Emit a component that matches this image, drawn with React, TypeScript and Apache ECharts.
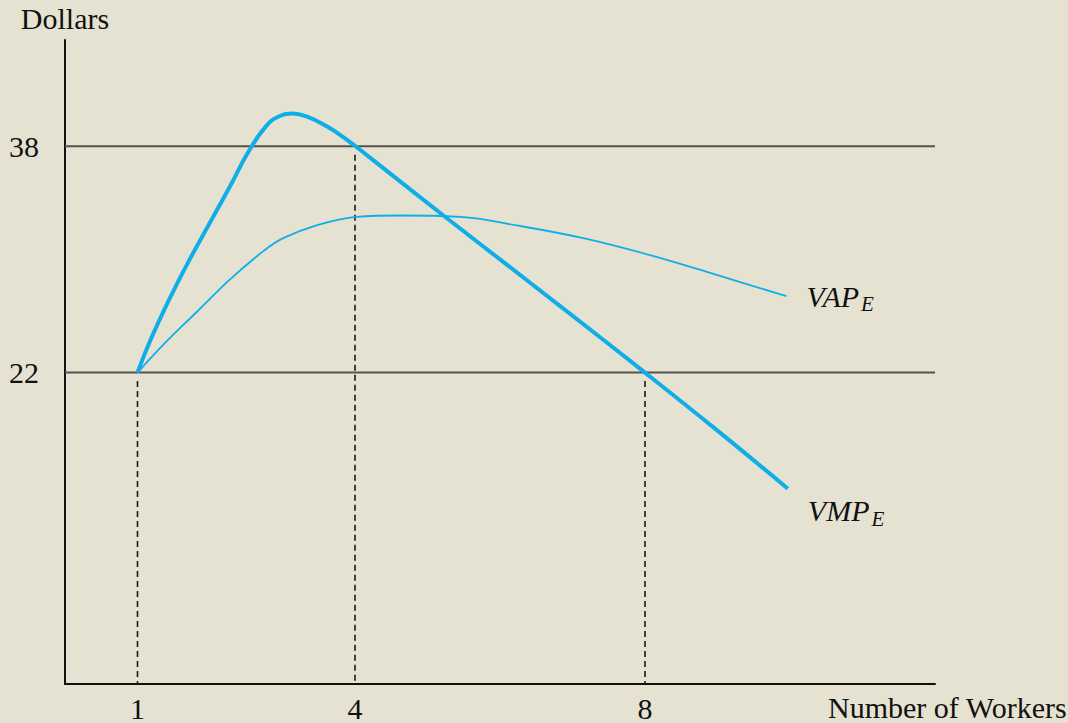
import React, { useEffect, useRef } from "react";
import * as echarts from "echarts";

const xTickValues = [1, 4, 8];
const yTickValues = [22, 38];
const xMax = 12;
const yMax = 45.5;

const vmpData: [number, number][] = [
  [1, 22], [1.17, 24.2], [1.45, 27.3], [1.72, 30.0], [2.0, 32.6], [2.28, 35.2],
  [2.53, 37.6], [2.78, 39.45], [2.97, 40.15], [3.13, 40.3], [3.33, 40.1],
  [3.61, 39.4], [3.89, 38.45], [4.18, 37.3], [4.6, 35.6], [5.22, 33.1],
  [6, 30], [6.83, 26.7], [8, 22], [9, 17.9], [9.97, 13.8],
];

const vapData: [number, number][] = [
  [1, 22], [1.36, 24.0], [1.82, 26.3], [2.28, 28.6], [2.74, 30.6], [3.01, 31.5],
  [3.47, 32.4], [4.02, 33.0], [4.62, 33.1], [5.45, 33.0], [6.23, 32.4],
  [7.15, 31.5], [8.07, 30.3], [8.99, 28.9], [9.95, 27.4],
];

const hLevels = [38, 22];
const dropLines: [number, number][] = [[1, 22], [4, 38], [8, 22]];

const FONT = "'Liberation Serif', 'Times New Roman', serif";
const BLUE = "#10aee8";

export default function App() {
  const ref = useRef<HTMLDivElement>(null);
  useEffect(() => {
    if (!ref.current) return;
    const chart = echarts.init(ref.current, null, { renderer: "svg" });
    const series: any[] = [];
    hLevels.forEach((v) => {
      series.push({
        type: "line",
        data: [[0, v], [xMax, v]],
        symbol: "none",
        silent: true,
        lineStyle: { color: "#55534d", width: 2 },
        z: 1,
      });
    });
    dropLines.forEach(([x, y]) => {
      series.push({
        type: "line",
        data: [[x, y - 0.6], [x, 0]],
        symbol: "none",
        silent: true,
        lineStyle: { color: "#1a1a1a", width: 1.6, type: [6, 4] },
        z: 1,
      });
    });
    const rich = {
      a: { fontFamily: FONT, fontStyle: "italic", fontSize: 30, color: "#111" },
      b: { fontFamily: FONT, fontStyle: "italic", fontSize: 21, color: "#111", padding: [16, 0, 0, 2] },
    };
    series.push({
      type: "line",
      name: "VAP",
      data: vapData,
      smooth: 0.4,
      symbol: "none",
      lineStyle: { color: BLUE, width: 1.8 },
      z: 3,
      endLabel: { show: true, formatter: "{a|VAP}{b|E}", offset: [12, 0], rich },
    });
    series.push({
      type: "line",
      name: "VMP",
      data: vmpData,
      smooth: 0.45,
      symbol: "none",
      lineStyle: { color: BLUE, width: 4 },
      z: 4,
      endLabel: { show: true, formatter: "{a|VMP}{b|E}", offset: [12, 22], rich },
    });
    chart.setOption({
      animation: false,
      backgroundColor: "#e6e2d2",
      grid: { left: 65, right: 133, top: 40, bottom: 38 },
      xAxis: {
        type: "value",
        min: 0,
        max: xMax,
        axisLine: { show: true, lineStyle: { color: "#111", width: 2 } },
        axisTick: { show: false },
        splitLine: { show: false },
        axisLabel: {
          customValues: xTickValues,
          fontFamily: FONT,
          fontSize: 30,
          color: "#111",
          margin: 9,
        },
      },
      yAxis: {
        type: "value",
        min: 0,
        max: yMax,
        name: "Dollars",
        nameLocation: "end",
        nameGap: 7,
        nameTextStyle: { fontFamily: FONT, fontSize: 30, color: "#111", align: "center" },
        axisLine: { show: true, lineStyle: { color: "#111", width: 2 } },
        axisTick: { show: false },
        splitLine: { show: false },
        axisLabel: {
          customValues: yTickValues,
          fontFamily: FONT,
          fontSize: 30,
          color: "#111",
          margin: 26,
        },
      },
      graphic: [
        {
          type: "text",
          left: 828,
          top: 692,
          style: { text: "Number of Workers", fontFamily: FONT, fontSize: 30, fill: "#111" },
        },
      ],
      series,
    });
    return () => chart.dispose();
  }, []);
  return (
    <div
      ref={ref}
      style={{ position: "fixed", left: 0, top: 0, width: 1068, height: 723 }}
    />
  );
}
